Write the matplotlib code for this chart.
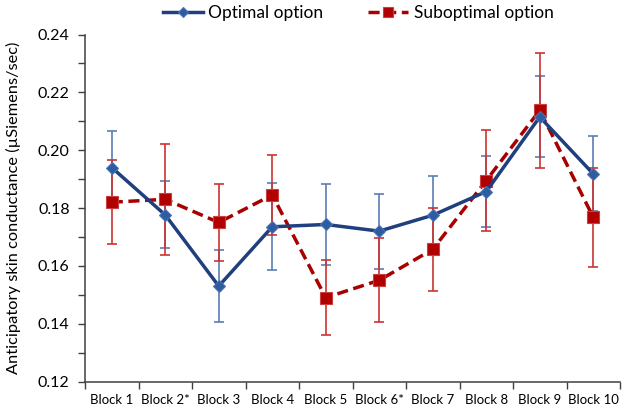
import matplotlib
matplotlib.use("Agg")
import matplotlib.pyplot as plt
import numpy as np
from matplotlib.ticker import MultipleLocator

categories = ["Block 1", "Block 2*", "Block 3", "Block 4", "Block 5",
              "Block 6*", "Block 7", "Block 8", "Block 9", "Block 10"]
optimal = [0.194, 0.1776, 0.153, 0.1735, 0.1743, 0.172, 0.1775, 0.1857, 0.2115, 0.1918]
optimal_err = [0.0125, 0.0116, 0.0124, 0.015, 0.014, 0.013, 0.0134, 0.0124, 0.014, 0.013]
suboptimal = [0.182, 0.183, 0.175, 0.1845, 0.149, 0.155, 0.1657, 0.1895, 0.2138, 0.1768]
suboptimal_err = [0.0146, 0.0193, 0.0132, 0.0137, 0.013, 0.0145, 0.0144, 0.0175, 0.0198, 0.0172]

plt.rcParams['font.family'] = ['Lato', 'DejaVu Sans']

fig = plt.figure(figsize=(6.24, 4.12), dpi=100)
ax = fig.add_axes([85/624, 1-381.5/412, 535/624, (381.5-34.5)/412])

x = np.arange(len(categories))

ax.errorbar(x, optimal, yerr=optimal_err, fmt='none', ecolor='#5a7db5',
            elinewidth=1.2, capsize=3.5, capthick=1.2, zorder=2)
ax.errorbar(x, suboptimal, yerr=suboptimal_err, fmt='none', ecolor='#cc3333',
            elinewidth=1.2, capsize=3.5, capthick=1.2, zorder=2)

l1, = ax.plot(x, optimal, color='#1f3f7d', lw=2.5, marker='D', ms=6.5,
              mfc='#2f5b9f', mec='#4a74b5', mew=0.8, zorder=4, label='Optimal option')
l2, = ax.plot(x, suboptimal, color='#a80000', lw=2.5, ls=(0, (3.2, 1.6)), marker='s', ms=9,
              mfc='#b00000', mec='#c84040', mew=0.8, zorder=3, label='Suboptimal option')

ax.set_xlim(-0.5, len(categories) - 0.5)
ax.set_ylim(0.12, 0.24)
ax.yaxis.set_major_locator(MultipleLocator(0.02))
ax.yaxis.set_minor_locator(MultipleLocator(0.01))
ax.set_yticklabels([f"{v:.2f}" for v in ax.get_yticks()])
ax.set_xticks(x)
ax.set_xticklabels(categories, fontsize=9.5)
ax.set_xticks(np.arange(-0.5, len(categories)), minor=True)
ax.tick_params(axis='x', which='major', length=0, pad=9)
ax.tick_params(axis='x', which='minor', length=5, width=1, color='#404040')
ax.tick_params(axis='y', which='both', length=5, width=1, color='#404040', labelsize=11.5)
ax.tick_params(axis='y', which='major', pad=6)

for s in ['top', 'right']:
    ax.spines[s].set_visible(False)
for s in ['left', 'bottom']:
    ax.spines[s].set_color('#404040')
    ax.spines[s].set_linewidth(1.1)

ax.set_ylabel("Anticipatory skin conductance (µSiemens/sec)", fontsize=11.8, labelpad=12)

fig.legend(handles=[l1, l2], loc='upper center', bbox_to_anchor=(0.574, 1.025), ncol=2,
           frameon=False, fontsize=12.5, handlelength=2.3, columnspacing=2.6,
           handletextpad=0.3, markerscale=0.85)

fig.savefig("out.png", dpi=100)
